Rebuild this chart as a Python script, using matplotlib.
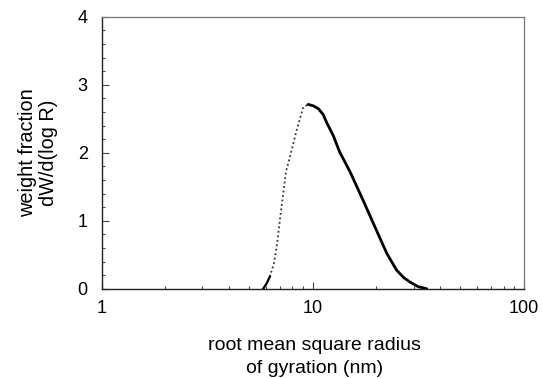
import numpy as np
import matplotlib
matplotlib.use("Agg")
import matplotlib.pyplot as plt
from matplotlib.ticker import LogLocator, MultipleLocator, FixedLocator, FixedFormatter

plt.rcParams['font.family'] = ['Liberation Sans', 'DejaVu Sans']

# radius of gyration (nm) and weight fraction dW/d(log R)
radius = [5.82, 6.05, 6.26, 6.54, 6.78, 6.98, 7.24, 7.46, 7.94, 8.38, 9.01,
          9.5, 10.04, 10.6, 11.2, 11.6, 12.5, 13.4, 15.0, 17.3, 20.0, 22.4,
          24.9, 27.0, 28.8, 31.5, 34.6]
weight = [0.0, 0.08, 0.18, 0.37, 0.67, 1.01, 1.40, 1.72, 2.04, 2.33, 2.67,
          2.71, 2.69, 2.65, 2.56, 2.45, 2.25, 2.01, 1.72, 1.30, 0.86, 0.52,
          0.275, 0.16, 0.10, 0.03, 0.0]
peak = 11  # rising side looks faint/dotted in the original scan

x_ticks = [1, 10, 100]
x_tick_labels = ['1', '10', '100']
y_ticks = [0, 1, 2, 3, 4]


def main():
  fig = plt.figure(figsize=(5.42, 3.78), dpi=100)
  ax = fig.add_axes([0.1876, 0.2362, 0.7792, 0.7196])

  # rising flank: faint dotted, falling flank: solid and heavy
  ax.plot(radius[:peak + 1], weight[:peak + 1], color='#333333',
          linestyle=(0, (1, 1.5)), linewidth=1.3)
  ax.plot(radius[:3], weight[:3], color='black', linewidth=1.6)
  ax.plot(radius[peak:], weight[peak:], color='black', linewidth=2.0,
          solid_capstyle='round', solid_joinstyle='round')

  ax.set_xscale('log')
  ax.set_xlim(1, 100)
  ax.set_ylim(0, 4)

  ax.xaxis.set_major_locator(FixedLocator(x_ticks))
  ax.xaxis.set_major_formatter(FixedFormatter(x_tick_labels))
  ax.xaxis.set_minor_locator(LogLocator(base=10, subs=np.arange(2, 10)))
  ax.xaxis.set_minor_formatter(FixedFormatter([]))
  ax.yaxis.set_major_locator(FixedLocator(y_ticks))
  ax.yaxis.set_minor_locator(MultipleLocator(0.2))

  ax.tick_params(which='both', direction='in', top=False, right=False,
                 colors='#444444', labelcolor='black', labelsize=13)
  ax.tick_params(which='major', length=5, width=0.8)
  ax.tick_params(which='minor', length=2.5, width=0.8)
  ax.tick_params(axis='y', pad=10)
  ax.tick_params(axis='x', pad=8)

  for side in ['left', 'bottom']:
    ax.spines[side].set_color('#222222')
    ax.spines[side].set_linewidth(1.0)
  for side in ['top', 'right']:
    ax.spines[side].set_color('#777777')
    ax.spines[side].set_linewidth(0.9)

  ax.set_xlabel('root mean square radius\nof gyration (nm)', fontsize=14,
                linespacing=1.45, va='center')
  ax.xaxis.set_label_coords(0.503, -0.252)
  ax.set_ylabel('weight fraction\ndW/d(log R)', fontsize=14.3,
                linespacing=1.15, va='center')
  ax.yaxis.set_label_coords(-0.151, 0.5)

  fig.savefig('out.png', dpi=100)


if __name__ == '__main__':
  main()
